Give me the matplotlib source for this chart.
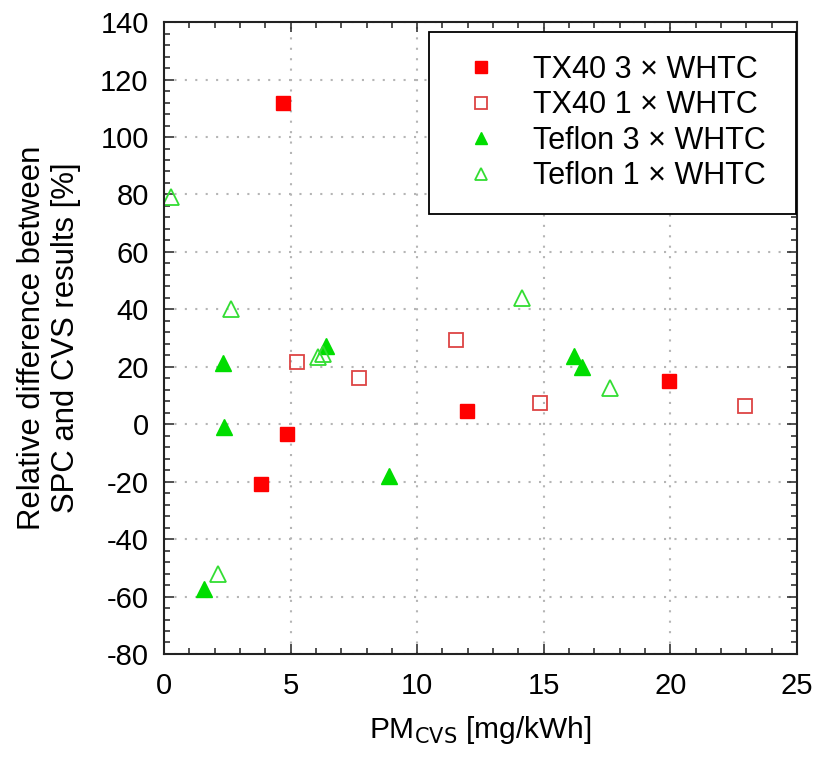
import numpy as np
import matplotlib.pyplot as plt
from matplotlib.ticker import MultipleLocator

plt.rcParams['font.family'] = ['Liberation Sans', 'DejaVu Sans']
plt.rcParams['axes.unicode_minus'] = False

# TX40 3 x WHTC
tx3_x = [4.69, 4.86, 3.83, 11.95, 19.95]
tx3_y = [112.0, -3.4, -20.7, 4.5, 15.1]
# TX40 1 x WHTC
tx1_x = [5.24, 7.69, 11.53, 14.84, 22.94]
tx1_y = [21.7, 16.1, 29.4, 7.4, 6.5]
# Teflon 3 x WHTC
tf3_x = [2.32, 2.36, 6.40, 8.88, 1.59, 16.19, 16.49]
tf3_y = [21.4, -0.9, 27.2, -18.0, -57.3, 23.7, 20.0]
# Teflon 1 x WHTC
tf1_x = [0.26, 2.66, 6.10, 6.30, 2.14, 14.14, 17.63]
tf1_y = [79.2, 40.0, 23.5, 24.5, -52.0, 43.8, 12.6]

fig = plt.figure(figsize=(8.17, 7.64), dpi=100)
ax = fig.add_axes([0.2007, 0.144, 0.7748, 0.827])

ax.plot(tx3_x, tx3_y, 's', color='#ff0000', ms=10, mec='#ff0000', label='TX40 3 × WHTC')
ax.plot(tx1_x, tx1_y, 's', color='#dd4444', ms=10, mfc='none', mew=1.3, label='TX40 1 × WHTC')
ax.plot(tf3_x, tf3_y, '^', color='#00dd00', ms=11, mec='#00dd00', label='Teflon 3 × WHTC')
ax.plot(tf1_x, tf1_y, '^', color='#33dd33', ms=11, mfc='none', mew=1.3, label='Teflon 1 × WHTC')

ax.set_xlim(0, 25)
ax.set_ylim(-80, 140)
ax.xaxis.set_major_locator(MultipleLocator(5))
ax.xaxis.set_minor_locator(MultipleLocator(1))
ax.yaxis.set_major_locator(MultipleLocator(20))
ax.yaxis.set_minor_locator(MultipleLocator(4))
ax.tick_params(which='both', direction='in', top=True, right=True, labelsize=21, width=1.1,
               color='#222222')
ax.tick_params(which='major', length=7)
ax.tick_params(which='minor', length=4.5)
ax.tick_params(axis='x', pad=13)
ax.tick_params(axis='y', pad=11)
ax.grid(True, which='major', linestyle=(0, (1, 4)), color='#b5b5b5', linewidth=1.5)
for s in ax.spines.values():
    s.set_linewidth(1.5)
    s.set_color('#222222')

ax.set_xlabel('PM$_{\\mathrm{CVS}}$ [mg/kWh]', fontsize=21.5, labelpad=10)
ax.set_ylabel('Relative difference between\nSPC and CVS results [%]', fontsize=22.4,
              labelpad=14, linespacing=1.15)

leg = ax.legend(loc='upper left', bbox_to_anchor=(0.4186, 0.984, 0.5798, 0), mode='expand',
                borderaxespad=0, fontsize=22, frameon=True, fancybox=False, framealpha=1,
                edgecolor='black', borderpad=0.74, handlelength=1.92, handletextpad=0.74,
                labelspacing=0.18, markerscale=0.85)
leg.get_frame().set_linewidth(1.3)

fig.savefig('out.png', dpi=100)
